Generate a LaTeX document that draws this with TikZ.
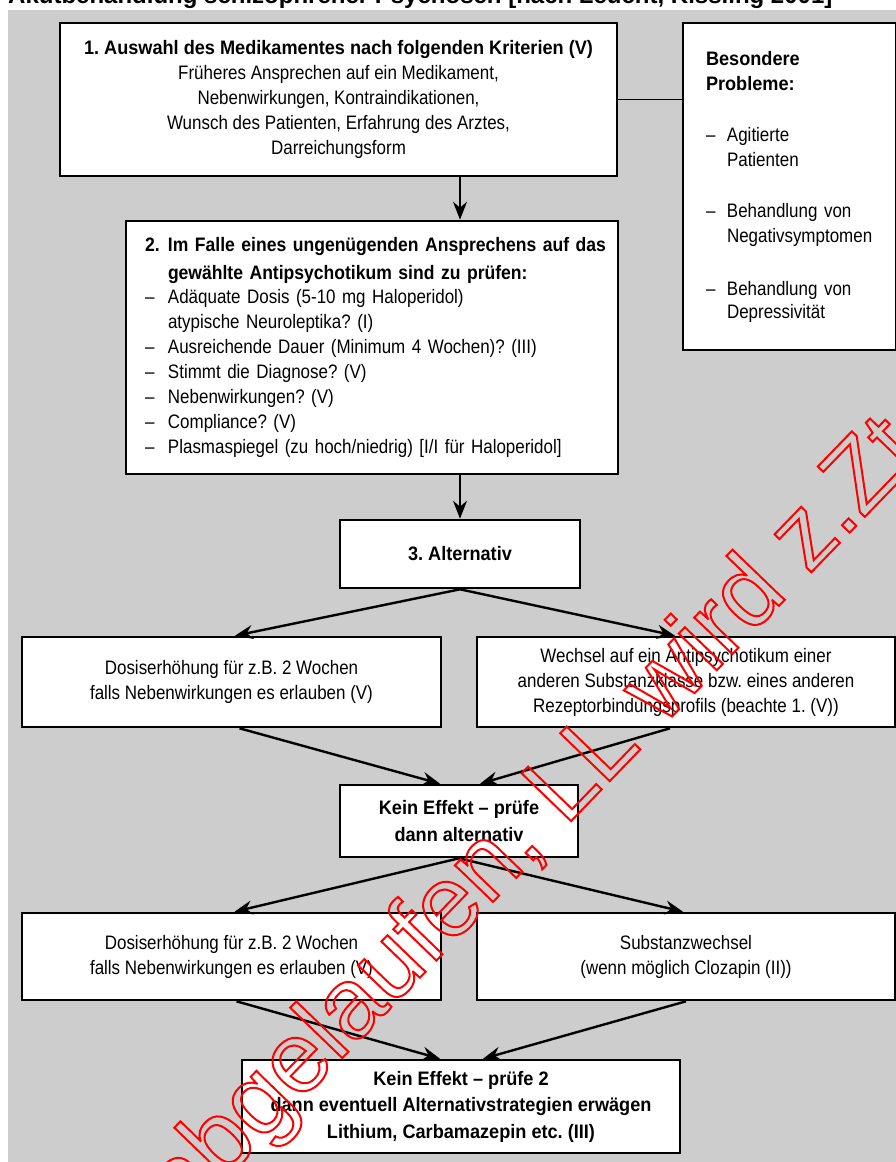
\documentclass[tikz,border=0pt]{standalone}
\usepackage{fontspec}
\setmainfont{Liberation Sans}[FakeStretch=0.87,BoldFeatures={FakeStretch=0.93}]
\newfontfamily\plainsans{Liberation Sans}
\newfontfamily\narrowbold{Liberation Sans Bold}[FakeStretch=0.9]
\usetikzlibrary{calc}
\usetikzlibrary{arrows.meta}
\usetikzlibrary{positioning}

\definecolor{panelgray}{RGB}{205,205,205}
\newcommand\hollowtext[1]{\special{pdf:literal direct 2 w 1 Tr}#1\special{pdf:literal direct 0 Tr}}
\newcommand\dashitem{\makebox[21pt][l]{–}}
\newcommand\listitem{\makebox[23pt][l]{–}}
\frenchspacing

\begin{document}
\begin{tikzpicture} [x=1pt, y=-1pt,
  box/.style={draw=black, line width=2.6pt, fill=white, inner sep=0pt, align=center, font=\fontsize{19.5}{25}\selectfont},
  boldbox/.style={box, font=\bfseries\fontsize{19.5}{26.5}\selectfont},
  arr/.style={line width=2.4pt, -{Stealth[length=18pt,width=14pt,inset=6pt]}}]
\useasboundingbox (0,0) rectangle (896,1162);
\fill[white] (0,0) rectangle (896,1162);
\fill[panelgray] (8,10) rectangle (896,1162);

\node[anchor=base west, inner sep=0pt, font=\plainsans\bfseries\fontsize{24}{24}\selectfont] (title) at (8,3) {Akutbehandlung schizophrener Psychosen [nach Leucht, Kissling 2001]};

% step 1 and side box
\node[box, minimum width=557, minimum height=153] (crit) at (338.5,99.5) {\textbf{1. Auswahl des Medikamentes nach folgenden Kriterien (V)}\\ Früheres Ansprechen auf ein Medikament,\\ Nebenwirkungen, Kontraindikationen,\\ Wunsch des Patienten, Erfahrung des Arztes,\\ Darreichungsform};

\node[box, minimum width=213, minimum height=327, text width=167, align=left] (probs) at (789.5,186.5) {\textbf{Besondere}\\ \textbf{Probleme:}\\[26pt] \dashitem Agitierte\\ \hspace*{21pt}Patienten\\[26pt] \dashitem Behandlung von\\ \hspace*{21pt}Negativsymptomen\\[28pt] \dashitem Behandlung von\\[-2pt] \hspace*{21pt}Depressivität};

% step 2
\node[box, minimum width=492, minimum height=253, text width=454, align=left] (check) at (372,347.5) {\mbox{\narrowbold\makebox[23pt][l]{2.}Im Falle eines ungenügenden Ansprechens auf das}\\[3pt] \hspace*{23pt}{\narrowbold gewählte Antipsychotikum sind zu prüfen:}\\[-1pt] \listitem Adäquate Dosis (5-10 mg Haloperidol)\\ \hspace*{23pt}atypische Neuroleptika? (I)\\ \listitem Ausreichende Dauer (Minimum 4 Wochen)? (III)\\ \listitem Stimmt die Diagnose? (V)\\ \listitem Nebenwirkungen? (V)\\ \listitem Compliance? (V)\\ \listitem Plasmaspiegel (zu hoch/niedrig) [I/I für Haloperidol]};

% step 3
\node[boldbox, minimum width=240, minimum height=68] (alt) at (460,554) {3. Alternativ};

\node[box, minimum width=419, minimum height=90] (doseA) at (231.5,682) {Dosiserhöhung für z.B. 2 Wochen\\ falls Nebenwirkungen es erlauben (V)};
\node[box, minimum width=418, minimum height=90] (swap) at (686,682) {Wechsel auf ein Antipsychotikum einer\\ anderen Substanzklasse bzw. eines anderen\\ Rezeptorbindungsprofils (beachte 1. (V))};

\node[boldbox, minimum width=238, minimum height=72] (noeff) at (459,821) {Kein Effekt – prüfe\\ dann alternativ};

\node[box, minimum width=419, minimum height=87] (doseB) at (231.5,956.5) {Dosiserhöhung für z.B. 2 Wochen\\ falls Nebenwirkungen es erlauben (V)};
\node[box, minimum width=418, minimum height=87] (subst) at (686,956.5) {Substanzwechsel\\ (wenn möglich Clozapin (II))};

\node[boldbox, minimum width=438, minimum height=93] (final) at (461,1106.5) {Kein Effekt – prüfe 2\\ dann eventuell Alternativstrategien erwägen\\ Lithium, Carbamazepin etc. (III)};

% connectors
\draw[line width=1pt] (crit.east) -- (crit.east -| probs.west);
\draw[arr] (crit.south -| alt.north) -- (check.north -| alt.north);
\draw[arr] (check.south -| alt.north) -- (alt.north);

\draw[arr] (alt.south) -- ([xshift=3.5pt]doseA.north);
\draw[arr] (alt.south) -- ([xshift=-11pt]swap.north);
\draw[arr] ([xshift=8pt]doseA.south) -- ([xshift=-19pt]noeff.north);
\draw[arr] ([xshift=-16pt]swap.south) -- ([xshift=21pt]noeff.north);

\draw[arr] (noeff.south) -- ([xshift=3pt]doseB.north);
\draw[arr] (noeff.south) -- ([xshift=-3pt]subst.north);
\draw[arr] ([xshift=5pt]doseB.south) -- ([xshift=-21pt]final.north);
\draw[arr] (subst.south) -- ([xshift=22pt]final.north);

% stamp over everything
\node[red, rotate=46, anchor=base west, inner sep=0pt, font=\plainsans\fontsize{100}{100}\selectfont] (stamp) at (183,1223) {\hollowtext{abgelaufen, LL wird z.Zt}};

\end{tikzpicture}
\end{document}
